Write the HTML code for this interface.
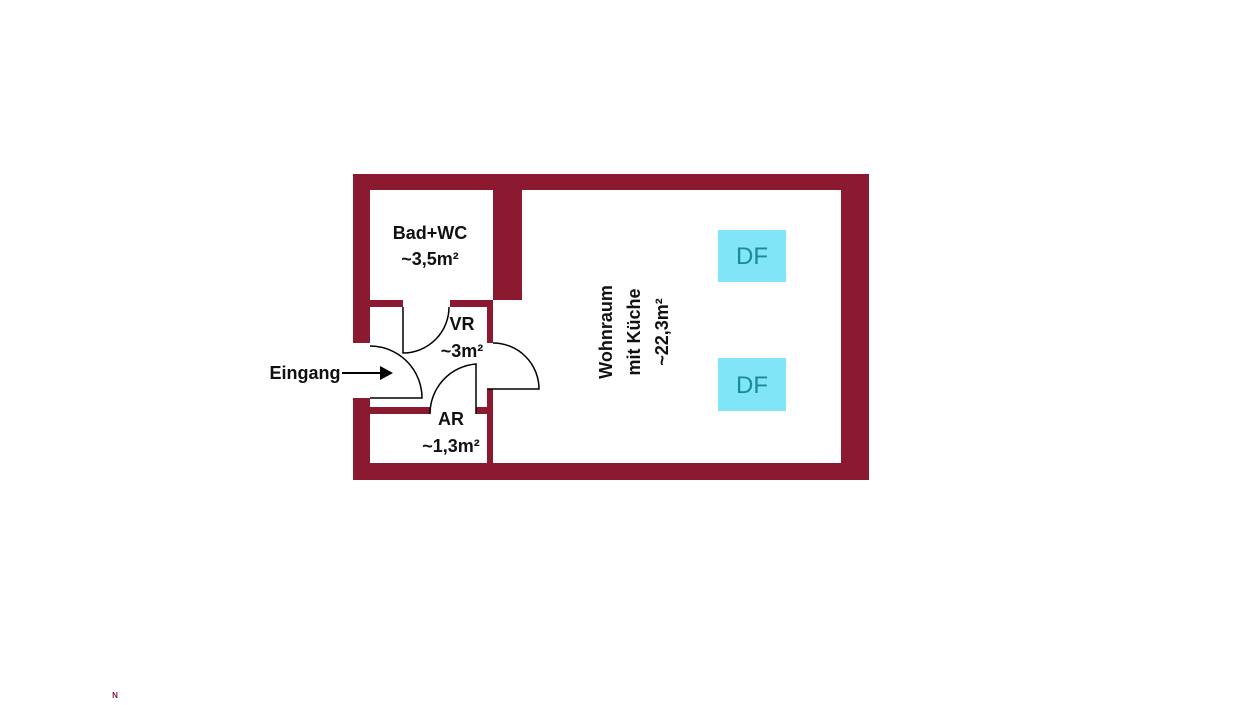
<!DOCTYPE html>
<html><head><meta charset="utf-8"><style>
body{margin:0;background:#fff;width:1236px;height:700px;overflow:hidden}
</style></head><body>
<svg width="1236" height="700" viewBox="0 0 1236 700" xmlns="http://www.w3.org/2000/svg" font-family="'Liberation Sans', sans-serif">
<g fill="#8b1a30">
<rect x="353" y="174" width="516" height="16"/>
<rect x="353" y="463" width="516" height="17"/>
<rect x="841" y="174" width="28" height="306"/>
<rect x="353" y="174" width="17" height="169"/>
<rect x="353" y="398" width="17" height="82"/>
<rect x="493" y="190" width="29" height="110"/>
<rect x="487" y="300" width="6" height="43"/>
<rect x="487" y="389" width="6" height="74"/>
<rect x="370" y="300" width="33" height="7"/>
<rect x="450" y="300" width="43" height="7"/>
<rect x="370" y="407" width="60" height="7"/>
<rect x="476" y="407" width="11" height="7"/>
</g>
<g fill="none" stroke="#000" stroke-width="1.5">
<path d="M403 307 V353 A46 46 0 0 0 449 307"/>
<path d="M370 398 H422 A52 52 0 0 0 370 346"/>
<path d="M476 414 V364 A50 50 0 0 0 430 414"/>
<path d="M487 389 H539 A46 46 0 0 0 493 343"/>
<path d="M342 373 H382" stroke-width="2"/>
</g>
<polygon points="380,366 393,373 380,380" fill="#000"/>
<rect x="718" y="230" width="68" height="52" fill="#7fe5f7"/>
<rect x="718" y="358" width="68" height="53" fill="#7fe5f7"/>
<g font-size="24" fill="#1b8a97" text-anchor="middle">
<text x="752" y="264">DF</text><text x="752" y="393">DF</text>
</g>
<g font-size="18" font-weight="bold" fill="#111" text-anchor="middle">
<text x="430" y="239">Bad+WC</text>
<text x="430" y="265">~3,5m²</text>
<text x="462" y="330">VR</text>
<text x="462" y="357">~3m²</text>
<text x="451" y="425">AR</text>
<text x="451" y="452">~1,3m²</text>
<text x="305" y="379">Eingang</text>
<g transform="translate(634,332) rotate(-90)">
<text x="0" y="-22">Wohnraum</text>
<text x="0" y="6">mit Küche</text>
<text x="0" y="34">~22,3m²</text>
</g>
</g>
<text x="115" y="698" font-size="8" fill="#8b1a30" text-anchor="middle" font-weight="bold">N</text>
</svg>
</body></html>
